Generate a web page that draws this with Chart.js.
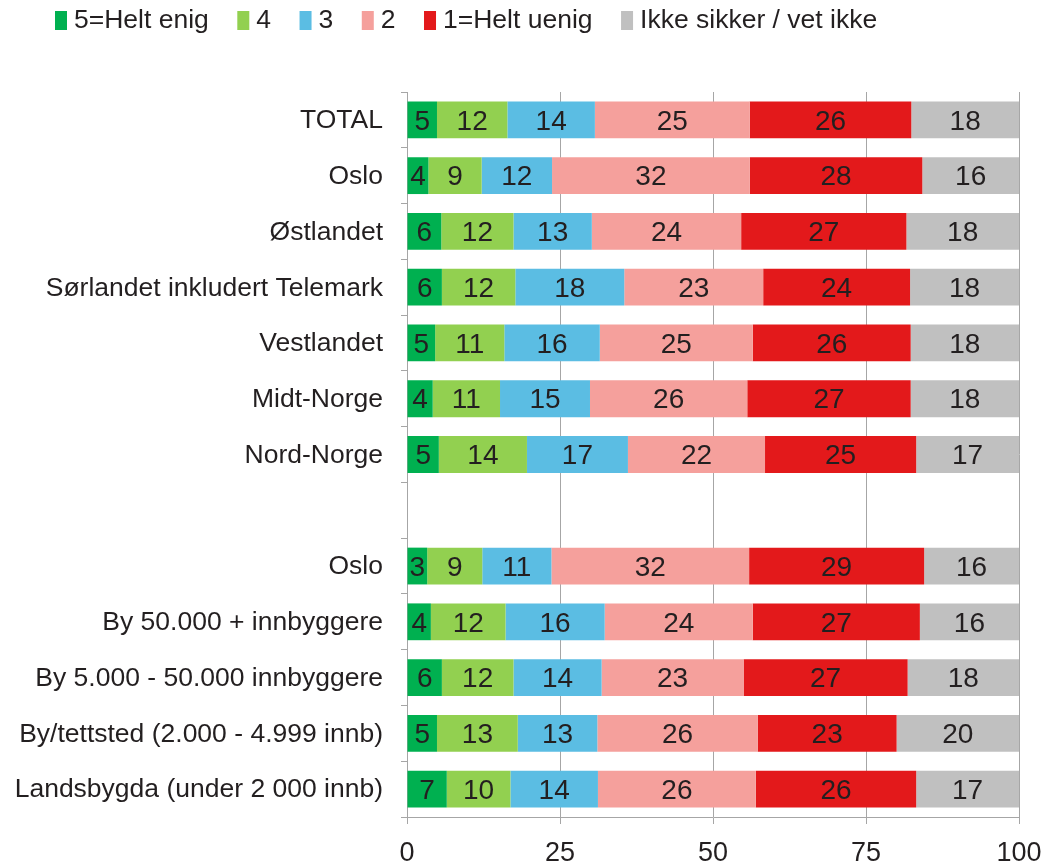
<!DOCTYPE html>
<html>
<head>
<meta charset="utf-8">
<script src="https://cdn.jsdelivr.net/npm/chart.js@4.4.1/dist/chart.umd.min.js"></script>
<style>
html,body{margin:0;padding:0;background:#ffffff;}
#wrap{width:1049px;height:863px;position:relative;}
</style>
</head>
<body>
<div id="wrap"><canvas id="c" width="1049" height="863"></canvas></div>
<script>
// ---- data (shares in %; printed labels are the rounded values) ----
const categories = [
  'TOTAL', 'Oslo', 'Østlandet', 'Sørlandet inkludert Telemark', 'Vestlandet',
  'Midt-Norge', 'Nord-Norge', '', 'Oslo', 'By 50.000 + innbyggere',
  'By 5.000 - 50.000 innbyggere', 'By/tettsted (2.000 - 4.999 innb)',
  'Landsbygda (under 2 000 innb)'
];
const seriesNames = ['5=Helt enig', '4', '3', '2', '1=Helt uenig', 'Ikke sikker / vet ikke'];
const heltEnig  = [4.9, 3.5, 5.6, 5.7, 4.6, 4.2, 5.2, null, 3.3, 3.9, 5.7, 4.9, 6.5];
const fire      = [11.5, 8.7, 11.8, 12.0, 11.3, 11.0, 14.4, null, 9.0, 12.2, 11.7, 13.2, 10.4];
const tre       = [14.3, 11.5, 12.8, 17.8, 15.6, 14.7, 16.5, null, 11.3, 16.2, 14.4, 13.0, 14.3];
const to        = [25.3, 32.3, 24.4, 22.7, 25.0, 25.7, 22.4, null, 32.3, 24.2, 23.2, 26.2, 25.8];
const heltUenig = [26.4, 28.2, 27.0, 24.0, 25.8, 26.7, 24.7, null, 28.6, 27.3, 26.8, 22.7, 26.2];
const vetIkke   = [17.6, 15.8, 18.4, 17.8, 17.7, 17.7, 16.8, null, 15.5, 16.2, 18.2, 20.0, 16.8];
const xTickValues = [0, 25, 50, 75, 100];

// ---- styles ----
const FONT = '"Liberation Sans", Arial, Helvetica, sans-serif';
const TEXT = '#231f20';
const GRID = '#a6a6a6';
const colors = ['#00b050', '#92d050', '#5bbde3', '#f5a09c', '#e3191b', '#c0c0c0'];
const seriesData = [heltEnig, fire, tre, to, heltUenig, vetIkke];

Chart.defaults.font.family = FONT;
Chart.defaults.color = TEXT;

const barLabels = {
  id: 'barLabels',
  afterDatasetsDraw(chart) {
    const ctx = chart.ctx;
    ctx.save();
    ctx.font = '28px ' + FONT;
    ctx.fillStyle = TEXT;
    ctx.textAlign = 'center';
    ctx.textBaseline = 'middle';
    chart.data.datasets.forEach((ds, i) => {
      const meta = chart.getDatasetMeta(i);
      meta.data.forEach((el, j) => {
        const v = ds.data[j];
        if (v === null || v === undefined) return;
        const p = el.getProps(['x', 'base', 'y'], true);
        ctx.fillText(String(Math.round(v)), (p.x + p.base) / 2, p.y + 2);
      });
    });
    ctx.restore();
  }
};

const topLegend = {
  id: 'topLegend',
  afterDraw(chart, args, opts) {
    const ctx = chart.ctx;
    ctx.save();
    ctx.font = '26.5px ' + FONT;
    ctx.textAlign = 'left';
    ctx.textBaseline = 'middle';
    let x = opts.startX;
    const yc = opts.centerY;
    chart.data.datasets.forEach(ds => {
      ctx.fillStyle = ds.backgroundColor;
      ctx.fillRect(x, yc - 9, opts.boxWidth, opts.boxHeight);
      ctx.fillStyle = TEXT;
      ctx.fillText(ds.label, x + opts.boxWidth + 7, yc + 1);
      x += opts.boxWidth + 7 + ctx.measureText(ds.label).width + opts.gap;
    });
    ctx.restore();
  }
};

new Chart(document.getElementById('c'), {
  type: 'bar',
  data: {
    labels: categories,
    datasets: seriesNames.map((name, i) => ({
      label: name,
      data: seriesData[i],
      backgroundColor: colors[i],
      borderWidth: 0,
      barPercentage: 0.66,
      categoryPercentage: 1.0
    }))
  },
  options: {
    indexAxis: 'y',
    responsive: false,
    animation: false,
    devicePixelRatio: 1,
    layout: { padding: { top: 92, right: 30, bottom: 0, left: 0 } },
    plugins: {
      legend: { display: false },
      tooltip: { enabled: false },
      title: { display: false },
      topLegend: { startX: 55, centerY: 20, boxWidth: 12, boxHeight: 19, gap: 28.5 }
    },
    scales: {
      x: {
        stacked: true,
        min: 0,
        max: 100,
        afterBuildTicks: s => { s.ticks = xTickValues.map(v => ({ value: v })); },
        afterFit: s => { s.height = 46; s.paddingRight = 0; s.paddingLeft = 0; },
        grid: { color: GRID, lineWidth: 1, tickLength: 7, drawTicks: true },
        border: { color: GRID, width: 1 },
        ticks: { padding: 13, font: { size: 27 }, color: TEXT, maxRotation: 0 }
      },
      y: {
        stacked: true,
        afterFit: s => { s.width = 407; },
        grid: { display: true, drawOnChartArea: false, tickLength: 6, color: GRID, offset: true },
        border: { color: GRID, width: 1 },
        ticks: { padding: 18, labelOffset: 1, font: { size: 26.5 }, color: TEXT, autoSkip: false }
      }
    }
  },
  plugins: [barLabels, topLegend]
});
</script>
</body>
</html>
